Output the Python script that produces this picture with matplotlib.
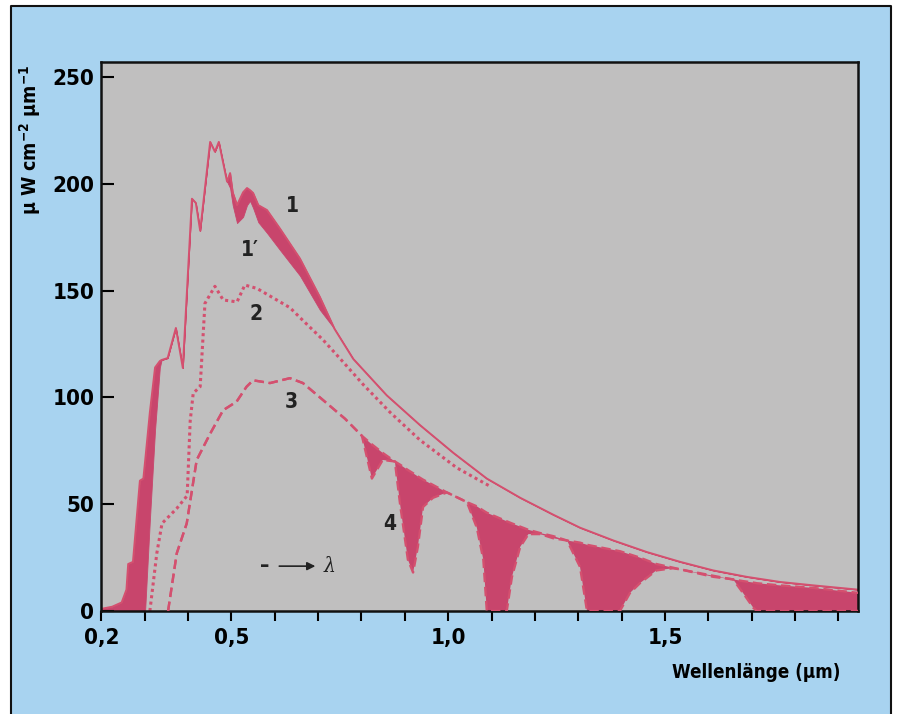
import matplotlib
matplotlib.use('Agg')
import matplotlib.pyplot as plt
from matplotlib.patches import Rectangle
from matplotlib.lines import Line2D

plt.rcParams['font.family'] = ['DejaVu Sans']
plt.rcParams['font.stretch'] = 'condensed'
plt.rcParams['font.weight'] = 'bold'
plt.rcParams['mathtext.fontset'] = 'dejavusans'
plt.rcParams['mathtext.default'] = 'bf'

# curve 1 (outside atmosphere) and 1' on a common wavelength grid (um, uW cm^-2 um^-1)
wl1 = [0.20, 0.225, 0.247, 0.258, 0.262, 0.273, 0.289, 0.297, 0.301, 0.312, 0.324,
       0.335, 0.339, 0.353, 0.372, 0.388, 0.409, 0.418, 0.428, 0.451, 0.462, 0.471,
       0.490, 0.497, 0.503, 0.513, 0.527, 0.536, 0.543, 0.550, 0.562, 0.582, 0.612,
       0.658, 0.704, 0.738, 0.781, 0.858, 0.935, 1.012, 1.089, 1.166, 1.243, 1.304,
       1.381, 1.458, 1.535, 1.611, 1.688, 1.765, 1.842, 1.945]
curve1 = [1, 2, 4, 10, 22, 23, 61, 62, 70, 93, 114,
          117, 117.5, 118.4, 132.5, 113.8, 193, 191, 178, 219.6, 215, 219.6,
          201, 205, 196, 190, 196, 198, 197, 195.7, 190, 187.7, 179,
          165, 147, 132, 118, 101, 87, 74, 62, 53, 45, 39,
          33, 27.6, 23, 19, 16, 13.6, 12, 10]
curve1b = [0, 0, 0, 0, 0, 0, 0, 0, 0, 42.6, 85,
           114, 117.5, 118.4, 132.5, 113.8, 193, 191, 178, 219.6, 215, 219.6,
           201, 198, 190, 181.6, 184.5, 190, 192, 188.7, 182, 177, 169,
           157, 141, 132, 118, 101, 87, 74, 62, 53, 45, 39,
           33, 27.6, 23, 19, 16, 13.6, 12, 10]

# curve 2 (dotted)
wl2 = [0.312, 0.328, 0.340, 0.374, 0.398, 0.405, 0.412, 0.428, 0.439, 0.462, 0.481,
       0.513, 0.531, 0.559, 0.635, 0.665, 0.711, 0.758, 0.804, 0.866, 0.935, 1.020, 1.100]
curve2 = [0, 27, 41, 48, 54, 89, 102, 105, 144, 152, 145.6,
          144.7, 152.6, 151, 142, 136, 127, 116.5, 106, 93, 80, 67, 58]

# curve 3 (dashed) and curve 4 (with absorption bands)
wl3 = [0.354, 0.374, 0.397, 0.420, 0.451, 0.481, 0.512, 0.535, 0.550, 0.589, 0.635,
       0.665, 0.711, 0.762, 0.801, 0.824, 0.849, 0.877, 0.889, 0.907, 0.919, 0.930,
       0.942, 0.965, 0.997, 1.043, 1.066, 1.081, 1.089, 1.135, 1.147, 1.166, 1.185,
       1.212, 1.243, 1.274, 1.304, 1.320, 1.396, 1.419, 1.442, 1.480, 1.518, 1.535,
       1.611, 1.650, 1.657, 1.680, 1.704, 1.712, 1.765, 1.842, 1.945]
curve3 = [0, 27, 41, 70.7, 83, 94, 98, 105, 108, 106.7, 109,
          106.7, 98.8, 90, 82, 78, 74, 70, 68.5, 66, 64.5, 63,
          61.5, 59, 55.5, 51, 49, 47, 46, 42, 41, 39.5, 38,
          36.5, 35, 33, 32, 31, 28, 26.5, 25, 22, 20.3, 19.5,
          16.5, 15, 14.8, 14, 13.3, 13, 12, 10.8, 8.5]
curve4 = [0, 27, 41, 70.7, 83, 94, 98, 105, 108, 106.7, 109,
          106.7, 98.8, 90, 82, 62, 70.7, 70, 50, 24, 18, 30,
          48.7, 53, 55.5, 51, 39, 24, 0, 0, 16, 30, 36,
          36, 34, 33, 20.6, 0, 0, 8.4, 13, 19, 20, 19.5,
          16, 15, 14.8, 8.4, 1.4, 0, 0, 0, 0]

xticks = [0.2, 0.3, 0.4, 0.5, 0.6, 0.7, 0.8, 0.9, 1.0, 1.1, 1.2, 1.3, 1.4, 1.5,
          1.6, 1.7, 1.8, 1.9]
xticklabels = ['0,2', '', '', '0,5', '', '', '', '', '1,0', '', '', '', '', '1,5',
               '', '', '', '']
yticks = [0, 50, 100, 150, 200, 250]

line_col = '#d4506f'
fill_col = '#c8456c'

fig = plt.figure(figsize=(8.98, 7.14), dpi=100, facecolor='white')
# blue page with black frame
fig.patches.append(Rectangle((11 / 898, 0), 880 / 898, 708 / 714, transform=fig.transFigure,
                             facecolor='#a8d3f0', edgecolor='none', zorder=-2))
fig.lines.append(Line2D([11 / 898, 11 / 898, 891 / 898, 891 / 898], [0, 708 / 714, 708 / 714, 0],
                        transform=fig.transFigure, color='#111111', lw=1.5, zorder=-1))

ax = fig.add_axes([101.3 / 898, 103 / 714, 756.7 / 898, 549 / 714])
ax.set_zorder(1)
ax.set_facecolor('#c0bfbf')

ax.fill_between(wl1, curve1b, curve1, facecolor=fill_col, edgecolor=fill_col, lw=0.6)
ax.plot(wl1, curve1, color=line_col, lw=1.4)
ax.plot(wl2, curve2, color=line_col, lw=2.2, linestyle=(0, (1, 1.1)))
ax.fill_between(wl3, curve4, curve3, facecolor=fill_col, lw=0)
ax.plot(wl3, curve4, color=line_col, lw=1.7, linestyle=(0, (4, 2)), zorder=3)
ax.plot(wl3, curve3, color=line_col, lw=1.7, linestyle=(0, (4, 2)), zorder=3)

ax.set_xlim(0.2, 1.945)
ax.set_ylim(0, 257)
ax.set_xticks(xticks)
ax.set_xticklabels(xticklabels)
ax.set_yticks(yticks)
ax.tick_params(axis='x', direction='out', length=7, width=1.5, pad=5, labelsize=16)
ax.tick_params(axis='y', direction='in', length=9, width=1.5, pad=5, labelsize=16)
for s in ax.spines.values():
    s.set_linewidth(1.8)
    s.set_color('#111111')

lab = dict(fontsize=15, color='#222222')
ax.text(0.625, 187, '1', **lab)
ax.text(0.522, 166, '1′', **lab)
ax.text(0.542, 136, '2', **lab)
ax.text(0.623, 95, '3', **lab)
ax.text(0.850, 38, '4', **lab)
ax.text(0.577, 21, '–', fontsize=15, ha='center', va='center', color='#222222')
ax.annotate('', xy=(0.700, 21), xytext=(0.604, 21),
            arrowprops=dict(arrowstyle='-|>', color='#222222', lw=1.2, mutation_scale=12))
ax.text(0.712, 21, 'λ', fontsize=15, style='italic', family='DejaVu Serif',
        fontweight='normal', va='center', color='#222222')

fig.text(0.034, 0.91, 'μ W cm$^{-2}$ μm$^{-1}$', rotation=90, ha='center', va='top',
         fontsize=14)
fig.text(840 / 898, 1 - 672 / 714, 'Wellenlänge (μm)', ha='right', va='center', fontsize=13.5)

fig.savefig('out.png', dpi=100, facecolor=fig.get_facecolor())
